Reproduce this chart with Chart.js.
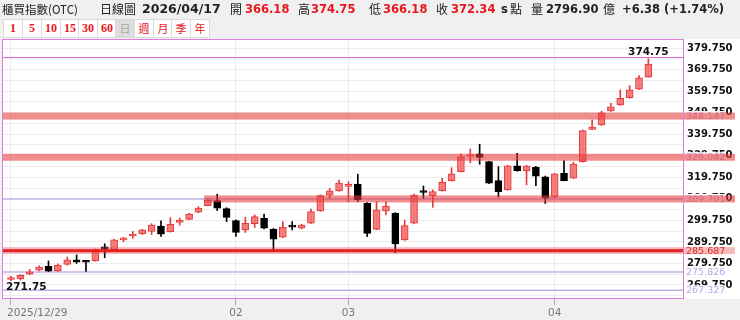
<!DOCTYPE html>
<html>
<head>
<meta charset="utf-8">
<script src="https://cdn.jsdelivr.net/npm/chart.js@4.4.1/dist/chart.umd.min.js"></script>
<style>
  body { margin: 0; background: #f0f0f0; }
  #wrap { position: relative; width: 740px; height: 320px; overflow: hidden; }
  #chart { position: absolute; left: 0; top: 0; }
  .t { position: absolute; top: 2px; line-height: 14px; font-size: 12px; color: #222; white-space: nowrap;
       font-family: "Noto Sans CJK TC", sans-serif; z-index: 2; }
  .n { font-family: "DejaVu Sans", sans-serif; font-weight: bold; font-size: 11.5px; }
  .r { color: #e8161c; }
  .btn { position: absolute; top: 19px; width: 18px; height: 17px; line-height: 17px; background: #fff;
         border: 1px solid #dadada; text-align: center; color: #e8161c; font-size: 12px; z-index: 2;
         font-family: "Liberation Serif", serif; font-weight: bold; }
  .btn.c { font-family: "Noto Sans CJK TC", sans-serif; font-weight: normal; font-size: 11px; }
  .btn.sel { background: #dcdcdc; color: #aaa; }
</style>
</head>
<body>
<div id="wrap">
  <canvas id="chart" width="740" height="320"></canvas>
  <span class="t" style="left:2px;font-size:11.5px">櫃買指數(OTC)</span>
  <span class="t" style="left:100px">日線圖</span>
  <span class="t n" style="left:142px;font-size:12.5px">2026/04/17</span>
  <span class="t" style="left:230px">開</span>
  <span class="t n r" style="left:245px">366.18</span>
  <span class="t" style="left:298px">高</span>
  <span class="t n r" style="left:311px">374.75</span>
  <span class="t" style="left:369px">低</span>
  <span class="t n r" style="left:383px">366.18</span>
  <span class="t" style="left:436px">收</span>
  <span class="t n r" style="left:451px">372.34</span>
  <span class="t n" style="left:501px">s</span>
  <span class="t" style="left:510px">點</span>
  <span class="t" style="left:531px">量</span>
  <span class="t n" style="left:546px">2796.90</span>
  <span class="t" style="left:603px">億</span>
  <span class="t n" style="left:622px">+6.38 (+1.74%)</span>
  <div class="btn" style="left:3px">1</div>
  <div class="btn" style="left:22px">5</div>
  <div class="btn" style="left:41px">10</div>
  <div class="btn" style="left:60px">15</div>
  <div class="btn" style="left:78px">30</div>
  <div class="btn" style="left:97px">60</div>
  <div class="btn c sel" style="left:115px">日</div>
  <div class="btn c" style="left:134px">週</div>
  <div class="btn c" style="left:153px">月</div>
  <div class="btn c" style="left:171px">季</div>
  <div class="btn c" style="left:190px">年</div>
</div>
<script>
// trading days
const dates = [
  '2025/12/29','2025/12/30','2025/12/31',
  '2026/01/02','2026/01/05','2026/01/06','2026/01/07','2026/01/08','2026/01/09',
  '2026/01/12','2026/01/13','2026/01/14','2026/01/15','2026/01/16',
  '2026/01/19','2026/01/20','2026/01/21','2026/01/22','2026/01/23',
  '2026/01/26','2026/01/27','2026/01/28','2026/01/29','2026/01/30',
  '2026/02/02','2026/02/03','2026/02/04','2026/02/05','2026/02/06',
  '2026/02/09','2026/02/10','2026/02/11',
  '2026/02/23','2026/02/24','2026/02/25','2026/02/26',
  '2026/03/02','2026/03/03','2026/03/04','2026/03/05','2026/03/06',
  '2026/03/09','2026/03/10','2026/03/11','2026/03/12','2026/03/13',
  '2026/03/16','2026/03/17','2026/03/18','2026/03/19','2026/03/20',
  '2026/03/23','2026/03/24','2026/03/25','2026/03/26','2026/03/27',
  '2026/03/30','2026/03/31',
  '2026/04/01','2026/04/02','2026/04/07','2026/04/08','2026/04/09','2026/04/10',
  '2026/04/13','2026/04/14','2026/04/15','2026/04/16','2026/04/17'
];
const opens = [
  272.3, 272.6, 274.8, 276.6, 278.4, 276.3, 279.3, 281.4, 280.5, 281.0,
  286.7, 286.0, 290.7, 292.5, 293.5, 294.6, 297.1, 294.5, 298.8, 300.2,
  303.5, 306.6, 308.9, 305.2, 299.6, 295.3, 298.2, 300.7, 295.7, 291.9,
  296.8, 296.1, 298.4, 304.1, 311.5, 313.4, 315.5, 316.6, 307.7, 295.6,
  304.1, 303.0, 290.7, 298.4, 312.9, 311.2, 313.5, 318.2, 322.4, 329.4,
  330.6, 327.0, 318.2, 313.9, 325.1, 322.7, 324.4, 320.0, 310.5, 321.6,
  319.3, 327.0, 342.0, 344.0, 350.5, 353.3, 356.7, 360.6, 366.18
];
const highs = [
  273.8, 274.5, 277.0, 278.6, 280.9, 279.6, 282.7, 283.7, 280.6, 286.5,
  288.9, 291.0, 291.9, 294.5, 295.6, 298.2, 299.5, 301.0, 300.8, 303.0,
  306.1, 309.8, 311.9, 305.6, 300.0, 301.2, 302.3, 302.7, 296.0, 299.2,
  299.2, 298.0, 305.0, 311.6, 314.6, 318.5, 317.7, 321.2, 308.0, 308.4,
  308.4, 303.3, 299.9, 312.0, 315.7, 313.9, 319.3, 324.2, 330.6, 332.9,
  335.1, 327.2, 324.7, 325.4, 330.9, 325.3, 324.8, 320.3, 321.6, 327.5,
  326.8, 341.7, 346.4, 350.4, 354.1, 360.3, 362.3, 366.9, 374.75
];
const lows = [
  271.75, 272.0, 274.5, 276.3, 276.0, 276.1, 279.0, 279.8, 276.0, 280.8,
  282.4, 285.8, 289.8, 291.4, 293.2, 293.2, 292.3, 294.3, 297.5, 300.0,
  303.3, 306.4, 304.3, 299.2, 292.3, 294.1, 296.4, 295.8, 285.3, 291.7,
  295.3, 295.8, 298.2, 303.9, 310.0, 313.2, 308.4, 308.4, 292.2, 295.4,
  302.3, 284.8, 290.5, 298.2, 310.0, 305.8, 313.3, 318.0, 322.2, 326.5,
  325.8, 316.8, 310.5, 313.7, 322.6, 316.2, 315.9, 307.6, 310.2, 318.0,
  319.1, 326.8, 341.8, 343.8, 350.3, 353.1, 356.5, 360.4, 366.18
];
const closes = [
  273.0, 274.2, 275.9, 278.1, 276.2, 278.9, 281.4, 280.3, 280.3, 286.1,
  286.5, 290.7, 291.1, 292.8, 295.3, 297.6, 293.3, 297.9, 299.2, 302.7,
  305.4, 309.2, 305.4, 301.1, 294.2, 298.4, 301.5, 296.1, 291.0, 296.6,
  296.6, 297.6, 303.8, 311.2, 313.4, 317.0, 315.9, 309.2, 293.7, 304.6,
  306.4, 288.8, 297.3, 311.5, 312.7, 313.1, 317.4, 321.4, 329.3, 329.8,
  329.0, 317.0, 313.1, 325.1, 322.8, 325.0, 320.3, 310.0, 321.3, 318.2,
  325.9, 341.4, 343.0, 349.7, 352.5, 356.4, 360.3, 365.96, 372.34
];

// support / resistance levels
const bandLevels = [348.147, 329.042, 309.701, 285.687];
const bandFrom = [null, null, 20.6, null];
const thinLevels = [309.701, 275.826, 267.327];
const labelLevels = [348.147, 329.042, 309.701, 285.687, 275.826, 267.327];
const keyLevel = 285.687;

// axis ticks
const yTicks = [264.75, 269.75, 274.75, 279.75, 284.75, 289.75, 294.75, 299.75, 304.75, 309.75,
  314.75, 319.75, 324.75, 329.75, 334.75, 339.75, 344.75, 349.75, 354.75, 359.75, 364.75,
  369.75, 374.75, 379.75];
const xTickIdx = [0, 24, 36, 58];
const xTickLabels = ['2025/12/29', '02', '03', '04'];

const idx = dates.map((d, i) => i);
const isUp = closes.map((c, i) => c >= opens[i]);
const hiIdx = highs.indexOf(Math.max(...highs));
const loIdx = lows.indexOf(Math.min(...lows));

const overlay = {
  id: 'overlay',
  beforeDraw(c) {
    const { ctx, chartArea: a } = c;
    ctx.save();
    ctx.fillStyle = '#f0f0f0';
    ctx.fillRect(0, 0, c.width, c.height);
    ctx.fillStyle = '#fff';
    ctx.fillRect(a.left, a.top, c.width - a.left, a.bottom - a.top);
    ctx.restore();
  },
  beforeDatasetsDraw(c) {
    const { ctx, chartArea: a, scales: { y } } = c;
    ctx.save();
    ctx.strokeStyle = '#c4b0e6';
    ctx.lineWidth = 1.5;
    thinLevels.forEach(v => {
      const py = y.getPixelForValue(v);
      ctx.beginPath(); ctx.moveTo(a.left, py); ctx.lineTo(a.right, py); ctx.stroke();
    });
    ctx.restore();
  },
  afterDatasetsDraw(c) {
    const { ctx, chartArea: a, scales: { x, y } } = c;
    ctx.save();
    // level labels on the price axis
    ctx.font = '9.5px "DejaVu Sans"';
    ctx.textBaseline = 'middle';
    ctx.textAlign = 'left';
    labelLevels.forEach(v => {
      const py = y.getPixelForValue(v);
      ctx.fillStyle = '#fff';
      ctx.fillRect(a.right + 1, py - 5, 40, 11);
      ctx.fillStyle = '#b9a6e6';
      if (v !== keyLevel) ctx.fillText(v.toFixed(3), a.right + 2, py + 0.5);
    });
    // bands
    bandLevels.forEach((v, k) => {
      const py = y.getPixelForValue(v);
      const x0 = bandFrom[k] === null ? a.left : x.getPixelForValue(bandFrom[k]);
      if (v === keyLevel) {
        ctx.fillStyle = 'rgba(230,60,60,0.35)';
        ctx.fillRect(x0, py - 3.5, 735 - x0, 7);
        ctx.fillStyle = 'rgba(230,20,20,0.9)';
        ctx.fillRect(x0, py - 1.5, a.right - x0, 3);
      } else {
        ctx.fillStyle = 'rgba(230,60,60,0.58)';
        ctx.fillRect(x0, py - 3.5, 735 - x0, 7);
      }
    });
    ctx.fillStyle = '#e42a2a';
    ctx.textBaseline = 'middle';
    ctx.fillText(keyLevel.toFixed(3), a.right + 2, y.getPixelForValue(keyLevel) + 0.5);
    // high line and labels
    const hy = y.getPixelForValue(highs[hiIdx]) - 1.5;
    ctx.strokeStyle = '#e070e0';
    ctx.lineWidth = 1;
    ctx.beginPath(); ctx.moveTo(a.left, Math.round(hy) + 0.5); ctx.lineTo(a.right, Math.round(hy) + 0.5); ctx.stroke();
    ctx.fillStyle = '#111';
    ctx.font = 'bold 10.5px "DejaVu Sans"';
    ctx.textAlign = 'center';
    ctx.textBaseline = 'bottom';
    ctx.fillText(highs[hiIdx].toFixed(2), x.getPixelForValue(hiIdx), hy);
    ctx.textAlign = 'left';
    ctx.textBaseline = 'top';
    ctx.fillText(lows[loIdx].toFixed(2), x.getPixelForValue(loIdx) - 5, y.getPixelForValue(lows[loIdx]) + 1);
    // frame
    ctx.strokeStyle = '#dd7ddd';
    ctx.strokeRect(a.left + 0.5, a.top + 0.5, a.right - a.left - 1, a.bottom - a.top - 1);
    // date labels
    ctx.fillStyle = '#777';
    ctx.font = '10.5px "DejaVu Sans"';
    ctx.textBaseline = 'middle';
    xTickIdx.forEach((i, k) => {
      const px = x.getPixelForValue(i);
      ctx.textAlign = k === 0 ? 'left' : 'center';
      ctx.fillText(xTickLabels[k], k === 0 ? px - 4 : px, 313);
    });
    ctx.restore();
  }
};

new Chart(document.getElementById('chart'), {
  type: 'bar',
  data: {
    datasets: [
      {
        label: 'body',
        data: idx.map(i => ({ x: i, y: [opens[i], closes[i]] })),
        backgroundColor: isUp.map(u => u ? 'rgba(244,120,120,0.9)' : '#000'),
        borderColor: isUp.map(u => u ? '#e43c3c' : '#000'),
        borderWidth: 1,
        borderSkipped: false,
        barThickness: 7,
        minBarLength: 2,
        grouped: false,
        order: 1
      },
      {
        label: 'wick',
        data: idx.map(i => ({ x: i, y: [lows[i], highs[i]] })),
        backgroundColor: isUp.map(u => u ? '#e43c3c' : '#000'),
        barThickness: 1,
        grouped: false,
        order: 2
      }
    ]
  },
  options: {
    responsive: false,
    animation: false,
    devicePixelRatio: 1,
    layout: { padding: { left: 2, top: 39, right: 0, bottom: 0 } },
    plugins: { legend: { display: false }, tooltip: { enabled: false } },
    scales: {
      x: {
        type: 'linear',
        offset: false,
        min: -0.96,
        max: 71.8,
        afterBuildTicks: s => { s.ticks = xTickIdx.map(v => ({ value: v })); },
        afterFit: s => { s.height = 21; },
        grid: { offset: false, color: '#ececec', drawTicks: true, tickLength: 6, tickColor: '#aaa' },
        border: { display: false },
        ticks: { autoSkip: false, callback: () => '' }
      },
      y: {
        position: 'right',
        min: 263.25,
        max: 383.93,
        afterBuildTicks: s => { s.ticks = yTicks.map(v => ({ value: v })); },
        afterFit: s => { s.width = 56; },
        grid: { color: '#ececec', drawTicks: false },
        border: { display: false },
        ticks: {
          autoSkip: false,
          padding: 3,
          color: '#111',
          font: { family: 'DejaVu Sans', size: 10, weight: 'bold' },
          callback: v => (Math.round((v - 269.75) * 100) % 1000 === 0) ? v.toFixed(3) : ''
        }
      }
    }
  },
  plugins: [overlay]
});
</script>
</body>
</html>
